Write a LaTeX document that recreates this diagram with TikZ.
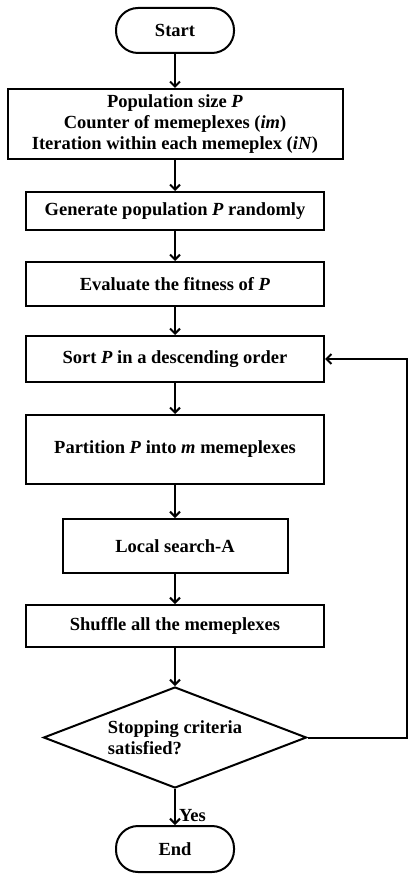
\documentclass[tikz,border=0pt]{standalone}
\usepackage{fontspec}
\setmainfont{Liberation Serif}
\usetikzlibrary{arrows.meta,shapes.geometric}
\def\vr#1{\textit{#1}}

\begin{document}
\begin{tikzpicture}[x=1pt,y=1pt,line width=2pt,
    txt/.style={font=\bfseries\fontsize{18.5}{21}\selectfont},
    stepbox/.style={draw,txt,align=center,inner sep=0pt,minimum width=298pt},
    term/.style={draw,txt,rounded corners=22pt,minimum width=118pt,minimum height=45pt},
    decide/.style={draw,txt,diamond,aspect=2.6,inner sep=0pt,align=left,
      minimum width=263pt,minimum height=101pt},
    flow/.style={-{Straight Barb[length=5pt,width=10pt]}}]
  \useasboundingbox (0,0) rectangle (409,-874);
  % boxes, top to bottom
  \node[term] (start) at (175,-30.5) {Start};
  \node[stepbox,minimum width=335pt,minimum height=70pt] (init) at (175,-124)
    {Population size \vr{P}\\Counter of memeplexes (\vr{im})\\Iteration within each memeplex (\vr{iN})};
  \node[stepbox,minimum height=38pt] (gen) at (175,-211) {Generate population \vr{P} randomly};
  \node[stepbox,minimum height=44pt] (eval) at (175,-284) {Evaluate the fitness of \vr{P}};
  \node[stepbox,minimum height=46pt] (sort) at (175,-359) {Sort \vr{P} in a descending order};
  \node[stepbox,minimum height=69pt] (part) at (175,-449.5) {Partition \vr{P} into \vr{m} memeplexes};
  \node[stepbox,minimum width=225pt,minimum height=54pt] (local) at (175,-546) {Local search-A};
  \node[stepbox,minimum height=42pt] (shuf) at (175,-626) {Shuffle all the memeplexes};
  \node[decide] (stop) at (175,-737.5) {Stopping criteria\\satisfied?};
  \node[term,minimum height=46pt] (end) at (175,-849) {End};
  % connectors
  \draw[flow] (start) -- (init);
  \draw[flow] (init) -- (gen);
  \draw[flow] (gen) -- (eval);
  \draw[flow] (eval) -- (sort);
  \draw[flow] (sort) -- (part);
  \draw[flow] (part) -- (local);
  \draw[flow] (local) -- (shuf);
  \draw[flow] (shuf) -- (stop);
  \draw[flow] (stop) -- node[txt,right,inner sep=3pt,yshift=-9pt] (yes) {Yes} (end);
  \coordinate (back) at (407,-737.5);
  \draw[flow] (stop.east) -- (back) |- (sort.east);
\end{tikzpicture}
\end{document}
